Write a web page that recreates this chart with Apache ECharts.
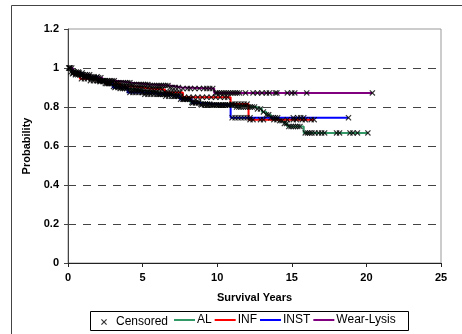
<!DOCTYPE html>
<html><head><meta charset="utf-8">
<script src="https://cdn.jsdelivr.net/npm/echarts@6/dist/echarts.min.js"></script>
<style>html,body{margin:0;padding:0;background:#fff}#c{width:462px;height:334px}</style>
</head><body><div id="c"></div>
<script>
// Kaplan-Meier step curves: [years, probability]
var curveAL = [[0,1],[0.2,0.98],[0.5,0.965],[1,0.955],[1.5,0.945],[2,0.935],[2.5,0.92],[3,0.905],[3.5,0.895],[4,0.885],[5,0.875],[6,0.865],[7,0.855],[7.6,0.84],[8.2,0.825],[8.8,0.815],[9.6,0.81],[11.2,0.80],[12.6,0.79],[13.0,0.775],[13.3,0.76],[13.6,0.745],[14.1,0.73],[14.5,0.715],[14.7,0.70],[15.8,0.667],[20.1,0.667]];
var curveINF = [[0,1],[0.3,0.97],[0.8,0.945],[1.5,0.935],[2.5,0.92],[3.5,0.905],[4.5,0.895],[5.5,0.89],[6.5,0.875],[7.7,0.85],[10.9,0.815],[12.1,0.735],[16.5,0.735]];
var curveINST = [[0,1],[0.3,0.975],[1,0.955],[2,0.93],[3,0.9],[4,0.875],[5,0.865],[6.5,0.855],[7.5,0.84],[8.3,0.82],[8.8,0.81],[10.9,0.745],[18.8,0.745]];
var curveWL = [[0,1],[0.3,0.98],[0.8,0.965],[1.5,0.95],[2.3,0.935],[3.2,0.925],[4.2,0.915],[5.5,0.91],[6.8,0.9],[7.6,0.895],[9.8,0.872],[20.4,0.872]];
// censored times per group
var censAL = [0.05,0.2,0.35,0.5,0.65,0.8,0.95,1.1,1.25,1.4,1.55,1.7,1.85,2.0,2.15,2.3,2.45,2.6,2.75,2.9,3.05,3.2,3.35,3.5,3.65,3.8,3.95,4.1,4.25,4.4,4.55,4.7,4.85,5.0,5.15,5.3,5.45,5.6,5.75,5.9,6.05,6.2,6.35,6.5,6.65,6.8,6.95,7.1,7.25,7.4,7.55,7.7,7.85,8.0,8.15,8.3,8.45,8.6,8.75,8.9,9.05,9.2,9.35,9.5,9.65,9.8,9.95,10.1,10.25,10.4,10.55,10.7,10.85,11.0,11.15,11.3,11.45,11.6,11.75,11.9,12.05,12.2,12.35,12.5,12.7,12.9,13.1,13.3,13.45,13.6,13.75,13.9,14.05,14.2,14.35,14.5,14.65,14.8,14.95,15.1,15.25,15.4,15.55,15.9,16.05,16.2,16.35,16.55,16.8,17.0,17.2,18.0,18.2,18.9,19.1,19.4,20.1];
var censINF = [0.1,0.3,0.5,0.7,0.9,1.1,1.3,1.5,1.7,1.9,2.1,2.3,2.5,2.7,2.9,3.1,3.3,3.5,3.7,3.9,4.1,4.3,4.5,4.7,4.9,5.1,5.3,5.5,5.7,5.9,6.1,6.3,6.5,6.7,6.9,7.1,7.3,7.5,7.8,8.1,8.4,8.7,9.0,9.3,9.6,9.9,10.2,10.5,10.7,11.0,11.2,11.4,11.6,11.8,12.0,12.2,12.4,12.9,13.1,13.8,14.0,14.7,15.1,15.3,15.7,15.9,16.3,16.5];
var censINST = [0.15,0.35,0.55,0.75,0.95,1.15,1.35,1.55,1.75,1.95,2.15,2.35,2.55,2.75,2.95,3.15,3.35,3.55,3.75,3.95,4.15,4.35,4.55,4.75,4.95,5.15,5.35,5.55,5.75,5.95,6.15,6.35,6.55,6.75,6.95,7.15,7.35,7.55,7.75,7.95,8.15,8.35,8.55,8.75,8.95,9.15,9.35,9.55,9.75,9.95,10.15,10.35,10.55,10.75,11.0,11.2,11.4,11.6,11.8,12.0,12.2,15.1,15.4,15.6,15.8,18.8];
var censWL = [0.1,0.25,0.4,0.55,0.7,0.85,1.0,1.15,1.3,1.45,1.6,1.75,1.9,2.05,2.2,2.35,2.5,2.65,2.8,2.95,3.1,3.25,3.4,3.55,3.7,3.85,4.0,4.15,4.3,4.45,4.6,4.75,4.9,5.05,5.2,5.35,5.5,5.65,5.8,5.95,6.1,6.25,6.4,6.55,6.7,6.85,7.0,7.2,7.4,7.7,8.0,8.2,8.5,8.8,9.1,9.3,9.5,9.7,9.9,10.0,10.15,10.3,10.45,10.6,10.75,10.9,11.05,11.2,11.35,11.5,11.9,12.4,12.7,13.0,13.3,13.5,13.9,14.0,14.7,15.0,15.2,16.0,20.4];
var seriesNames = ['AL','INF','INST','Wear-Lysis'];
var seriesColors = ['#339966','#ff0000','#0000ff','#800080'];
var xTicks = [0,5,10,15,20,25];
var yTicks = [0,0.2,0.4,0.6,0.8,1,1.2];

function survAt(curve, t){
  var p = curve[0][1];
  for (var i=0;i<curve.length;i++){ if (curve[i][0] <= t) p = curve[i][1]; }
  return p;
}
var curves = [curveAL, curveINF, curveINST, curveWL];
var cens = [censAL, censINF, censINST, censWL];
var censData = [];
cens.forEach(function(arr, k){ arr.forEach(function(t){ censData.push([t, survAt(curves[k], t)]); }); });

var xSym = 'path://M0,1.4L1.4,0L5,3.6L8.6,0L10,1.4L6.4,5L10,8.6L8.6,10L5,6.4L1.4,10L0,8.6L3.6,5Z';
var font = 'Liberation Sans, Arial, sans-serif';

var series = curves.map(function(c, i){
  return {name: seriesNames[i], type:'line', step:'end', data:c, symbol:'none', showSymbol:false,
    lineStyle:{color:seriesColors[i], width:2}, itemStyle:{color:seriesColors[i]}, z:2, silent:true, animation:false};
});
series.push({name:'Censored', type:'scatter', data:censData, symbol:xSym, symbolSize:6,
  itemStyle:{color:'#000'}, z:3, animation:false});

var chart = echarts.init(document.getElementById('c'), null, {renderer:'canvas'});
chart.setOption({
  animation:false,
  backgroundColor:'#fff',
  grid:{left:68, right:21, top:29, bottom:71, show:true, borderColor:'#999', borderWidth:1},
  xAxis:{type:'value', min:xTicks[0], max:xTicks[xTicks.length-1], interval:5,
    name:'Survival Years', nameLocation:'middle', nameGap:29,
    nameTextStyle:{fontFamily:font, fontWeight:'bold', fontSize:11, color:'#000'},
    axisLine:{lineStyle:{color:'#222', width:1}},
    axisTick:{show:true, length:4, lineStyle:{color:'#222'}},
    axisLabel:{fontFamily:font, fontWeight:'bold', fontSize:11, color:'#000', margin:9},
    splitLine:{show:false}},
  yAxis:{type:'value', min:yTicks[0], max:yTicks[yTicks.length-1], interval:0.2,
    name:'Probability', nameLocation:'middle', nameGap:34,
    nameTextStyle:{fontFamily:font, fontWeight:'bold', fontSize:11, color:'#000'},
    axisLine:{show:true, lineStyle:{color:'#444', width:1}},
    axisTick:{show:true, length:4, lineStyle:{color:'#444'}},
    axisLabel:{fontFamily:font, fontWeight:'bold', fontSize:11, color:'#000', margin:9},
    splitLine:{show:true, lineStyle:{color:['transparent','#444','#444','#444','#444','#444','transparent'], type:[8,7], width:1}}},
  legend:[
    {data:[{name:'Censored', icon:xSym}], left:101, top:316, itemWidth:6, itemHeight:6, padding:0,
      textStyle:{fontFamily:font, fontSize:12, color:'#000', padding:[0,0,0,4]}},
    {data:seriesNames.map(function(n){return {name:n, icon:'rect'};}), left:174, top:314, itemWidth:21, itemHeight:2, itemGap:3, padding:0,
      textStyle:{fontFamily:font, fontSize:12, color:'#000', padding:[0,0,0,-3]}}
  ],
  graphic:[
    {type:'rect', left:11, top:5, shape:{width:470, height:350}, style:{fill:'transparent', stroke:'#444', lineWidth:1}, silent:true, z:-1},
    {type:'rect', left:90, top:311, shape:{width:318, height:19}, style:{fill:'transparent', stroke:'#000', lineWidth:1}, silent:true}
  ],
  series:series
});
</script></body></html>
